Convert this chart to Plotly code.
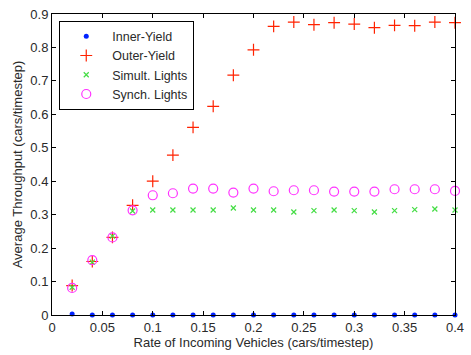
import plotly.graph_objects as go

rate = [0.02, 0.04, 0.06, 0.08, 0.10, 0.12, 0.14, 0.16, 0.18, 0.20,
        0.22, 0.24, 0.26, 0.28, 0.30, 0.32, 0.34, 0.36, 0.38, 0.40]
inner_yield = [0.003, 0.0, 0.0, 0.0, 0.0, 0.0, 0.0, 0.0, 0.0, 0.0,
               0.0, 0.0, 0.0, 0.0, 0.0, 0.0, 0.0, 0.0, 0.0, 0.0]
outer_yield = [0.088, 0.160, 0.232, 0.328, 0.400, 0.478, 0.561, 0.624, 0.717, 0.793,
               0.863, 0.876, 0.868, 0.874, 0.870, 0.859, 0.866, 0.865, 0.876, 0.874]
simult_lights = [0.083, 0.158, 0.236, 0.311, 0.314, 0.314, 0.314, 0.314, 0.320, 0.314,
                 0.314, 0.308, 0.312, 0.314, 0.312, 0.308, 0.312, 0.315, 0.317, 0.314]
synch_lights = [0.081, 0.164, 0.232, 0.313, 0.358, 0.364, 0.378, 0.378, 0.366, 0.378,
                0.370, 0.373, 0.373, 0.369, 0.369, 0.369, 0.376, 0.376, 0.376, 0.371]

x_ticks = [0, 0.05, 0.1, 0.15, 0.2, 0.25, 0.3, 0.35, 0.4]
x_tick_labels = ["0", "0.05", "0.1", "0.15", "0.2", "0.25", "0.3", "0.35", "0.4"]
y_ticks = [0, 0.1, 0.2, 0.3, 0.4, 0.5, 0.6, 0.7, 0.8, 0.9]
y_tick_labels = ["0", "0.1", "0.2", "0.3", "0.4", "0.5", "0.6", "0.7", "0.8", "0.9"]

FONT = "Liberation Sans, Arial"
TXT = "#2a2a2a"

fig = go.Figure()
fig.add_trace(go.Scatter(x=rate, y=inner_yield, mode="markers", name="Inner-Yield",
                         cliponaxis=False,
                         marker=dict(symbol="circle", size=5, color="#0022FF",
                                     line=dict(width=0))))
fig.add_trace(go.Scatter(x=rate, y=outer_yield, mode="markers", name="Outer-Yield",
                         cliponaxis=False,
                         marker=dict(symbol="cross-thin-open", size=8.5, color="#FF2200",
                                     line=dict(color="#FF2200", width=1.2))))
fig.add_trace(go.Scatter(x=rate, y=simult_lights, mode="markers", name="Simult. Lights",
                         cliponaxis=False,
                         marker=dict(symbol="x-thin-open", size=5, color="#44DD44",
                                     line=dict(color="#44DD44", width=1.2))))
fig.add_trace(go.Scatter(x=rate, y=synch_lights, mode="markers", name="Synch. Lights",
                         cliponaxis=False,
                         marker=dict(symbol="circle-open", size=9, color="#FF33FF",
                                     line=dict(color="#FF33FF", width=1.2))))

axis_common = dict(
    showline=True, linecolor="#000000", linewidth=1, mirror="ticks",
    ticks="inside", ticklen=4, tickcolor="#000000", showgrid=False, zeroline=False,
    ticklabeloverflow="allow",
    tickfont=dict(family=FONT, size=13, color=TXT),
)

fig.update_layout(
    width=471, height=355,
    margin=dict(l=52, r=7, t=12, b=40),
    paper_bgcolor="white", plot_bgcolor="white",
    font=dict(family=FONT, size=13, color=TXT),
    xaxis=dict(range=[0, 0.4], tickvals=x_ticks, ticktext=x_tick_labels,
               title=dict(text="Rate of Incoming Vehicles (cars/timestep)", standoff=2,
                          font=dict(size=13, color=TXT)),
               **axis_common),
    yaxis=dict(range=[0, 0.9], tickvals=y_ticks, ticktext=y_tick_labels,
               title=dict(text="Average Throughput (cars/timestep)", standoff=4,
                          font=dict(size=13, color=TXT)),
               **axis_common),
    legend=dict(x=0.018, y=0.978, xanchor="left", yanchor="top",
                bgcolor="white", bordercolor="#000000", borderwidth=1,
                font=dict(size=12.5, color=TXT), itemwidth=42,
                entrywidth=90, entrywidthmode="pixels",
                tracegroupgap=0),
    showlegend=True,
)

fig.write_html("out.html")
